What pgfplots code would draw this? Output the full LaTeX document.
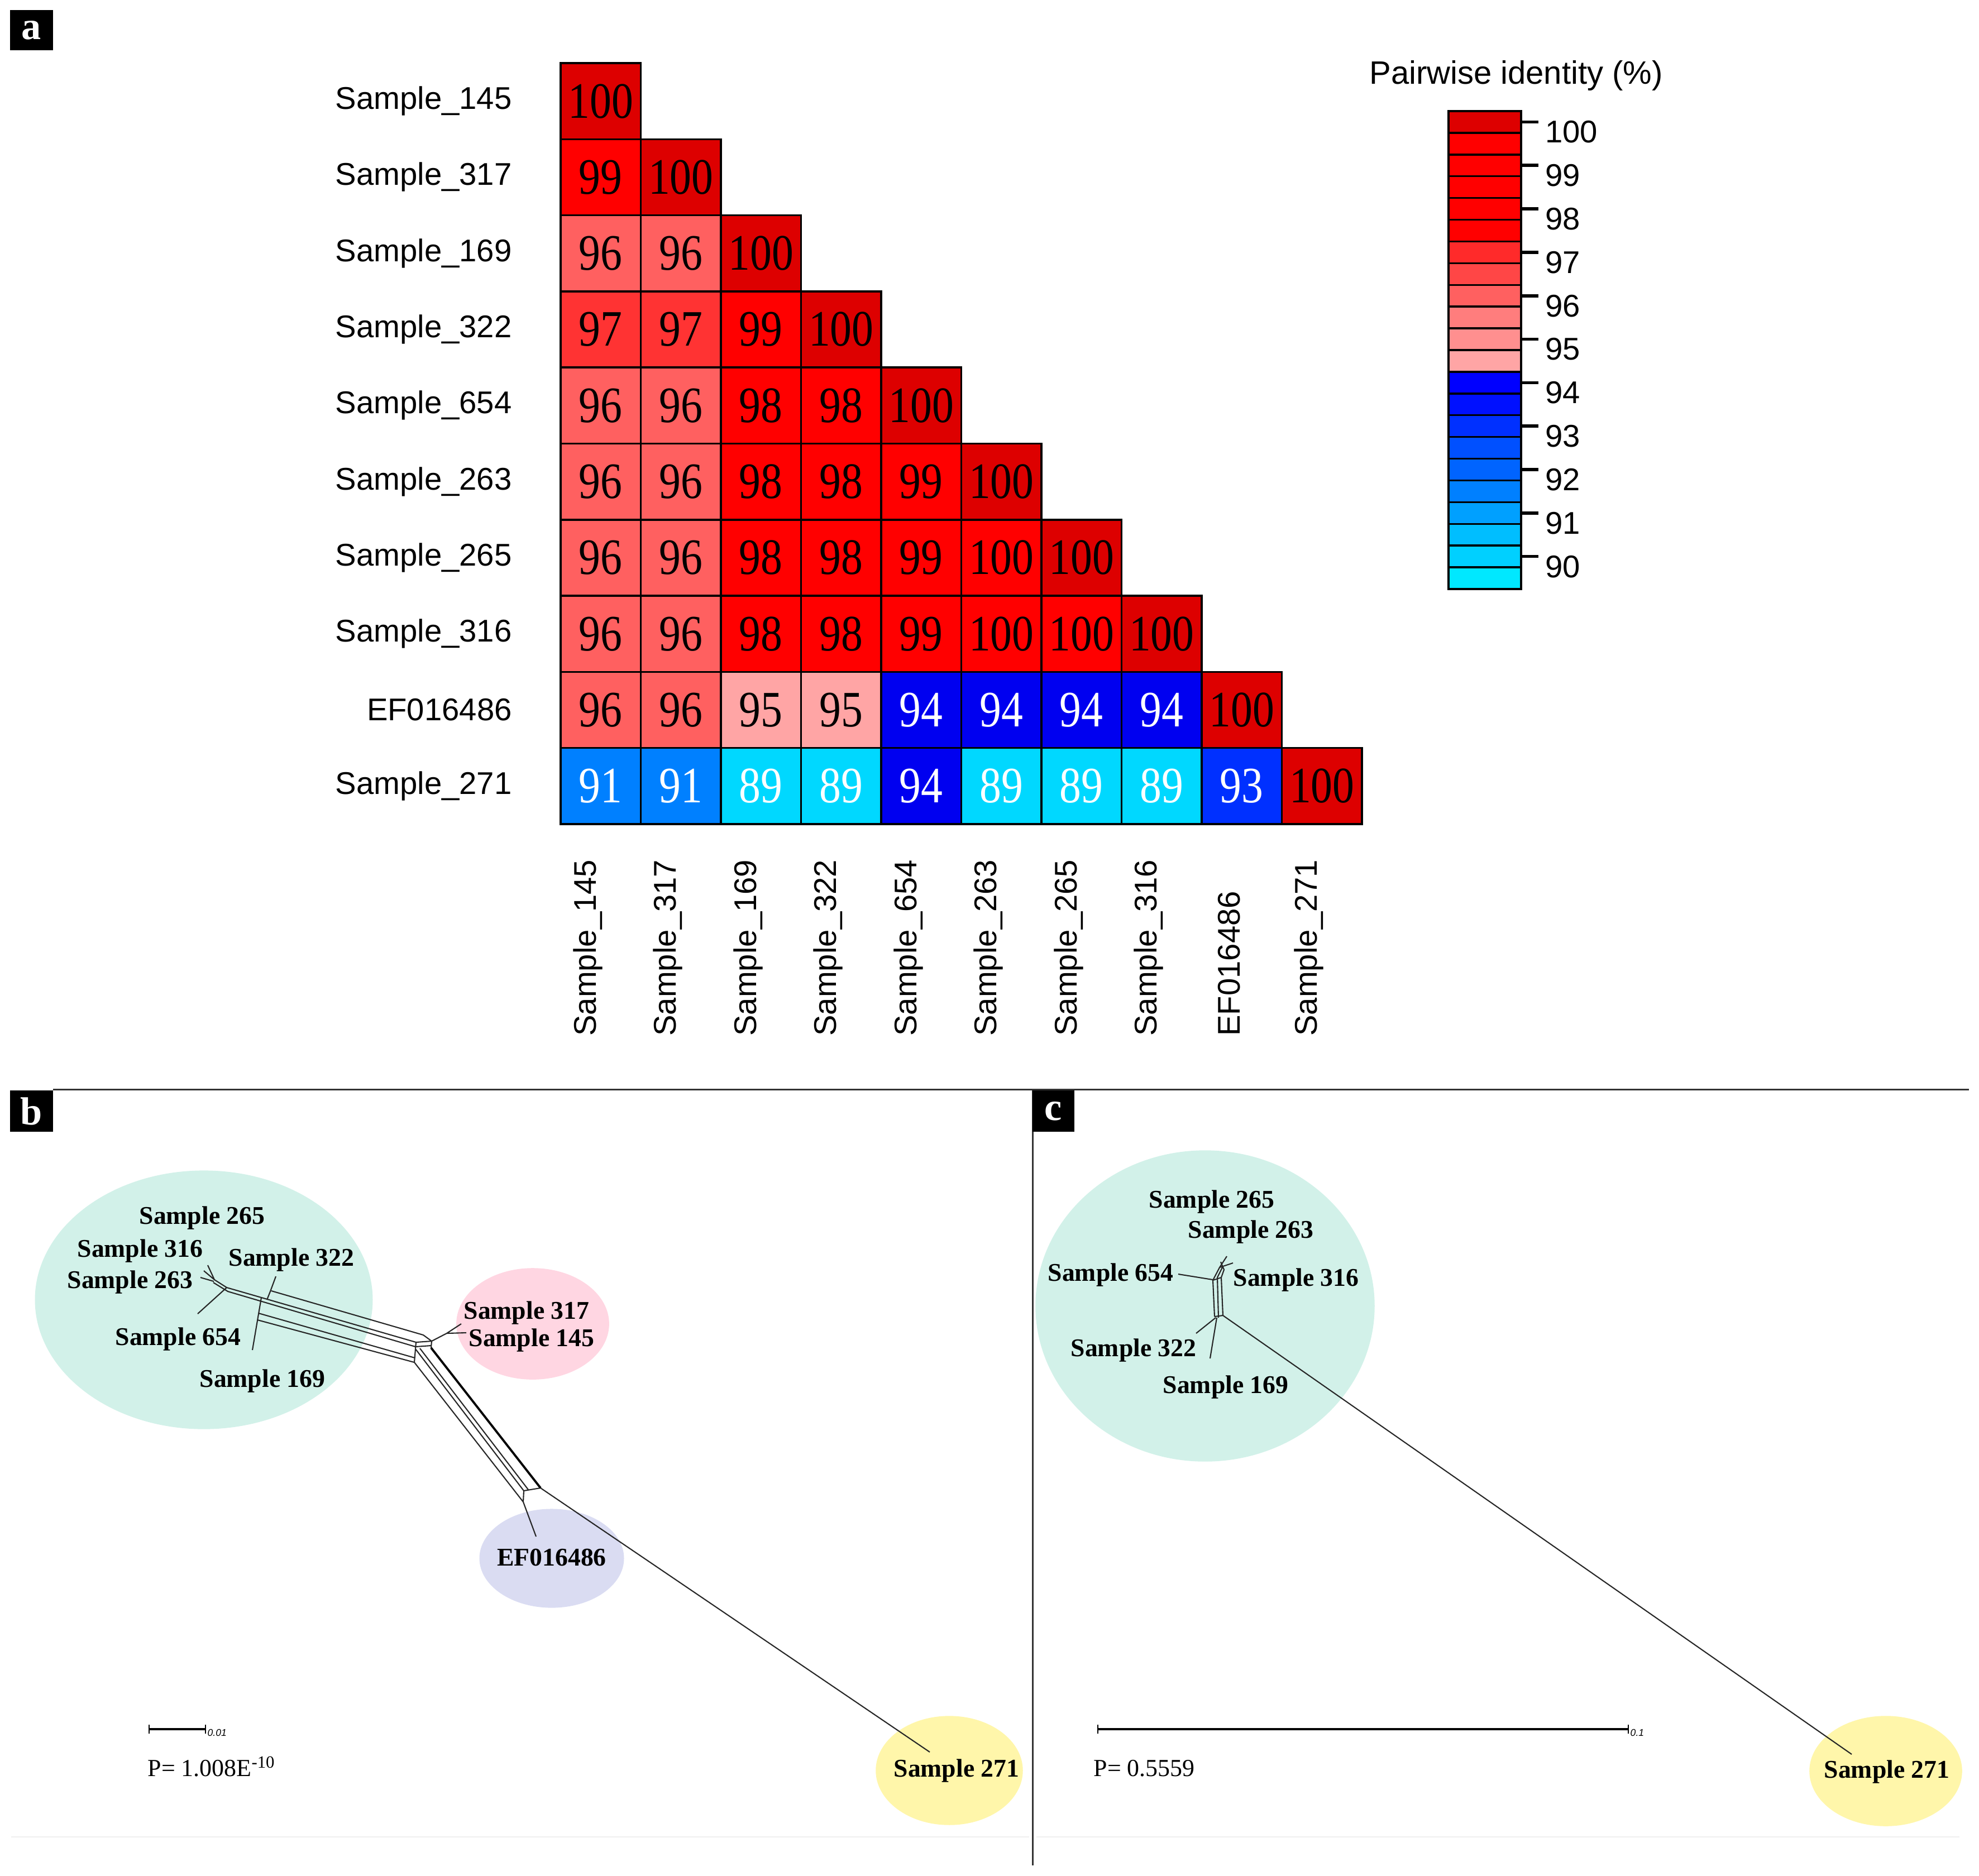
\documentclass[border=0pt]{standalone}
\usepackage{fontspec}
\setmainfont{Liberation Serif}
\newfontfamily\arial{Liberation Sans}
\usepackage{pgfplots}
\pgfplotsset{compat=1.18}
\usepackage{pgfplotstable}

\definecolor{mint}{RGB}{210,241,233}
\definecolor{rose}{RGB}{255,214,226}
\definecolor{lav}{RGB}{218,220,242}
\definecolor{lemon}{RGB}{255,246,170}
% cell shades
\definecolor{hA}{RGB}{221,0,0}
\definecolor{hB}{RGB}{255,0,0}
\definecolor{hC}{RGB}{255,51,51}
\definecolor{hD}{RGB}{255,96,96}
\definecolor{hE}{RGB}{255,165,165}
\definecolor{hF}{RGB}{0,0,240}
\definecolor{hG}{RGB}{0,48,255}
\definecolor{hH}{RGB}{0,128,255}
\definecolor{hI}{RGB}{0,216,255}
% colour key shades
\definecolor{kA}{RGB}{221,0,0}
\definecolor{kB}{RGB}{255,0,0}
\definecolor{kC}{RGB}{255,42,42}
\definecolor{kD}{RGB}{255,70,70}
\definecolor{kE}{RGB}{255,96,96}
\definecolor{kF}{RGB}{255,125,125}
\definecolor{kG}{RGB}{255,143,143}
\definecolor{kH}{RGB}{255,165,165}
\definecolor{kI}{RGB}{0,0,255}
\definecolor{kJ}{RGB}{0,16,255}
\definecolor{kK}{RGB}{0,48,255}
\definecolor{kL}{RGB}{0,80,255}
\definecolor{kM}{RGB}{0,100,255}
\definecolor{kN}{RGB}{0,128,255}
\definecolor{kO}{RGB}{0,160,255}
\definecolor{kP}{RGB}{0,190,255}
\definecolor{kQ}{RGB}{0,208,255}
\definecolor{kR}{RGB}{0,232,255}

\newcommand\cellfont{\fontsize{26}{28}\selectfont}
\newcommand\netfont{\bfseries\fontsize{13}{15}\selectfont}
\newcommand\labfont{\arial\fontsize{16}{19}\selectfont}

% pairwise identity, lower triangle; c = shade class
\pgfplotstableread{
x y v c
0 0 100 hA
0 1 99 hB
1 1 100 hA
0 2 96 hD
1 2 96 hD
2 2 100 hA
0 3 97 hC
1 3 97 hC
2 3 99 hB
3 3 100 hA
0 4 96 hD
1 4 96 hD
2 4 98 hB
3 4 98 hB
4 4 100 hA
0 5 96 hD
1 5 96 hD
2 5 98 hB
3 5 98 hB
4 5 99 hB
5 5 100 hA
0 6 96 hD
1 6 96 hD
2 6 98 hB
3 6 98 hB
4 6 99 hB
5 6 100 hB
6 6 100 hA
0 7 96 hD
1 7 96 hD
2 7 98 hB
3 7 98 hB
4 7 99 hB
5 7 100 hB
6 7 100 hB
7 7 100 hA
0 8 96 hD
1 8 96 hD
2 8 95 hE
3 8 95 hE
4 8 94 hF
5 8 94 hF
6 8 94 hF
7 8 94 hF
8 8 100 hA
0 9 91 hH
1 9 91 hH
2 9 89 hI
3 9 89 hI
4 9 94 hF
5 9 89 hI
6 9 89 hI
7 9 89 hI
8 9 93 hG
9 9 100 hA
}\heatdata

% colour key, one box per half percent
\pgfplotstableread{
y k
100 kA
99.5 kB
99 kB
98.5 kB
98 kB
97.5 kB
97 kC
96.5 kD
96 kE
95.5 kF
95 kG
94.5 kH
94 kI
93.5 kJ
93 kK
92.5 kL
92 kM
91.5 kN
91 kO
90.5 kP
90 kQ
89.5 kR
}\keydata

\pgfdeclareplotmark{hcell}{\pgfpathrectangle{\pgfpoint{-0.7175cm}{-0.6815cm}}{\pgfpoint{1.435cm}{1.363cm}}\pgfusepathqfillstroke}
\pgfdeclareplotmark{cbox}{\pgfpathrectangle{\pgfpoint{-0.65cm}{-0.1945cm}}{\pgfpoint{1.3cm}{0.389cm}}\pgfusepathqfillstroke}

\pgfplotsset{net/.style={scale only axis, hide axis, clip=false, y dir=reverse,
    ymin=1951, ymax=3360, unbounded coords=jump, height=14.09cm, anchor=center},
  netb/.style={net, width=18.49cm, at={(9.245cm,-26.555cm)}, xmin=0, xmax=1849},
  netc/.style={net, width=16.95cm, at={(26.965cm,-26.555cm)}, xmin=1849, xmax=3544}}

\begin{document}
\begin{tikzpicture}
\path[use as bounding box] (0,0) rectangle (35.44,-33.60);

% ---- a: heat map
\begin{axis}[
    scale only axis, width=14.35cm, height=13.63cm,
    at={(17.215cm,-7.945cm)}, anchor=center,
    xmin=-0.5, xmax=9.5, ymin=-9.5, ymax=0.5,
    clip=false,
    axis line style={draw=none}, major tick style={draw=none},
    xtick={0,...,9}, ytick={-9,...,0},
    xticklabels={Sample\_145,Sample\_317,Sample\_169,Sample\_322,Sample\_654,Sample\_263,Sample\_265,Sample\_316,EF016486,Sample\_271},
    yticklabels={Sample\_271,EF016486,Sample\_316,Sample\_265,Sample\_263,Sample\_654,Sample\_322,Sample\_169,Sample\_317,Sample\_145},
    tick label style={font=\labfont},
    yticklabel style={anchor=east, xshift=-0.75cm},
    xticklabel style={xshift=-0.23cm, yshift=-3.92cm, rotate=90, anchor=west},
]
\addplot[scatter, only marks, mark=hcell, point meta=explicit symbolic,
    scatter/classes={hA={fill=hA}, hB={fill=hB}, hC={fill=hC}, hD={fill=hD},
      hE={fill=hE}, hF={fill=hF}, hG={fill=hG}, hH={fill=hH}, hI={fill=hI}},
    mark options={draw=black, line width=1pt}]
    table[x=x, y expr=-\thisrow{y}, meta=c] {\heatdata};
\addplot[only marks, mark=none,
    visualization depends on={\thisrow{v}\as\cellval},
    nodes near coords={\pgfmathtruncatemacro\cv{\cellval}\ifdim\cellval pt<94.5pt\color{white}\fi\cv},
    nodes near coords style={anchor=center, text=black, font=\cellfont, xscale=0.85, inner sep=0pt}]
    table[x=x, y expr=-\thisrow{y}] {\heatdata};
\end{axis}

% ---- a: colour key
\begin{axis}[
    scale only axis, width=1.3cm, height=8.56cm,
    at={(26.59cm,-6.27cm)}, anchor=center,
    xmin=0, xmax=1, ymin=89.25, ymax=100.25,
    clip=false, axis on top,
    axis line style={line width=1.4pt},
    xtick=\empty, ytick={90,...,100},
    ytick pos=right, yticklabel pos=right, tick align=outside,
    major tick length=0.31cm, major tick style={line width=1.6pt, black},
    /pgf/number format/assume math mode=true,
    yticklabel style={font=\labfont, yshift=-0.18cm},
]
\addplot[scatter, only marks, mark=cbox, point meta=explicit symbolic,
    scatter/classes={
      kA={fill=kA}, kB={fill=kB}, kC={fill=kC}, kD={fill=kD}, kE={fill=kE},
      kF={fill=kF}, kG={fill=kG}, kH={fill=kH}, kI={fill=kI}, kJ={fill=kJ},
      kK={fill=kK}, kL={fill=kL}, kM={fill=kM}, kN={fill=kN}, kO={fill=kO},
      kP={fill=kP}, kQ={fill=kQ}, kR={fill=kR}},
    mark options={draw=black, line width=1pt}]
    table[x expr=0.5, y=y, meta=k] {\keydata};
\end{axis}
\node[font=\arial\fontsize{16.5}{19}\selectfont] at (27.15,-1.36) {Pairwise identity (\%)};

% ---- b: group shading
\begin{axis}[netb]
\addplot[only marks, mark=*, draw=mint, fill=mint, mark size=65.7pt, mark options={xscale=1.307}] coordinates {(365,2328)};
\addplot[only marks, mark=*, draw=rose, fill=rose, mark size=28.2pt, mark options={xscale=1.374}] coordinates {(954,2371)};
\addplot[only marks, mark=*, draw=lav, fill=lav, mark size=25.0pt, mark options={xscale=1.466}] coordinates {(988,2791)};
\addplot[only marks, mark=*, draw=lemon, fill=lemon, mark size=27.6pt, mark options={xscale=1.351}] coordinates {(1700,3171)};
\end{axis}

% ---- b: split network
\begin{axis}[netb]
\addplot[black!85, line width=0.6pt] coordinates {
 (372,2266) (384,2292) (nan,nan)
 (365,2276) (384,2292) (nan,nan)
 (359,2288) (383,2295) (nan,nan)
 (384,2292) (406,2306) (nan,nan)
 (382,2297) (408,2313) (nan,nan)
 (406,2306) (354,2353) (nan,nan)
 (484,2313) (494,2286) (nan,nan)
 (484,2313) (478,2328) (nan,nan)
 (468,2324) (452,2418) (nan,nan)
 (486,2312) (758,2391) (nan,nan)
 (406,2306) (745,2404) (nan,nan)
 (408,2313) (744,2412) (nan,nan)
 (463,2352) (743,2432) (nan,nan)
 (461,2364) (742,2440) (nan,nan)
 (745,2404) (773,2402) (nan,nan)
 (744,2412) (772,2410) (nan,nan)
 (758,2391) (773,2402) (nan,nan)
 (745,2404) (742,2440) (nan,nan)
 (773,2402) (772,2414) (nan,nan)
 (773,2402) (800,2388) (826,2371) (nan,nan)
 (800,2388) (835,2387) (nan,nan)
 (744,2416) (938,2670) (nan,nan)
 (752,2415) (946,2668) (nan,nan)
 (742,2440) (937,2690) (nan,nan)
 (938,2670) (968,2665) (nan,nan)
 (938,2670) (937,2690) (960,2752) (nan,nan)
 (968,2665) (1665,3138)
};
\addplot[black, line width=1.1pt] coordinates {(772,2414) (968,2665)};
% scale bar
\addplot[black, line width=1.2pt] coordinates {(267,3097) (368,3097)};
\addplot[black, line width=0.6pt] coordinates {(267,3089) (267,3105) (nan,nan) (368,3089) (368,3105)};
\node[anchor=west, inner sep=0pt, font=\arial\itshape\fontsize{5}{6}\selectfont] at (axis cs:371,3103) {0.01};
\node[anchor=west, inner sep=0pt, font=\fontsize{12.5}{14}\selectfont] at (axis cs:264,3164) {P= 1.008E\textsuperscript{-10}};
\node[font=\netfont] at (axis cs:362,2181) {Sample 265};
\node[font=\netfont] at (axis cs:251,2240) {Sample 316};
\node[font=\netfont] at (axis cs:522,2256) {Sample 322};
\node[font=\netfont] at (axis cs:233,2296) {Sample 263};
\node[font=\netfont] at (axis cs:319,2398) {Sample 654};
\node[font=\netfont] at (axis cs:470,2473) {Sample 169};
\node[font=\netfont] at (axis cs:943,2351) {Sample 317};
\node[font=\netfont] at (axis cs:952,2400) {Sample 145};
\node[font=\netfont] at (axis cs:988,2789) {EF016486};
\node[font=\netfont] at (axis cs:1713,3171) {Sample 271};
\end{axis}

% ---- c: group shading
\begin{axis}[netc]
\addplot[only marks, mark=*, draw=mint, fill=mint, mark size=79.1pt, mark options={xscale=1.090}] coordinates {(2158,2339)};
\addplot[only marks, mark=*, draw=lemon, fill=lemon, mark size=27.9pt, mark options={xscale=1.388}] coordinates {(3377,3172)};
\end{axis}

% ---- c: split network
\begin{axis}[netc]
\addplot[black!85, line width=0.6pt] coordinates {
 (2172,2293) (2184,2270) (2197,2250) (nan,nan)
 (2180,2288) (2190,2268) (2208,2262) (nan,nan)
 (2184,2270) (2190,2268) (nan,nan)
 (2187,2288) (2192,2274) (2186,2260) (nan,nan)
 (2172,2292) (2110,2282) (nan,nan)
 (2172,2293) (2187,2288) (nan,nan)
 (2172,2293) (2175,2358) (nan,nan)
 (2180,2288) (2182,2360) (nan,nan)
 (2187,2288) (2190,2356) (nan,nan)
 (2175,2358) (2190,2356) (nan,nan)
 (2177,2360) (2142,2388) (nan,nan)
 (2179,2360) (2167,2433) (nan,nan)
 (2190,2356) (3316,3142)
};
% scale bar
\addplot[black, line width=1.2pt] coordinates {(1966,3097) (2916,3097)};
\addplot[black, line width=0.6pt] coordinates {(1966,3089) (1966,3105) (nan,nan) (2916,3089) (2916,3105)};
\node[anchor=west, inner sep=0pt, font=\arial\itshape\fontsize{5}{6}\selectfont] at (axis cs:2919,3103) {0.1};
\node[anchor=west, inner sep=0pt, font=\fontsize{12.5}{14}\selectfont] at (axis cs:1958,3167) {P= 0.5559};
\node[font=\netfont] at (axis cs:2170,2152) {Sample 265};
\node[font=\netfont] at (axis cs:2240,2206) {Sample 263};
\node[font=\netfont] at (axis cs:1989,2283) {Sample 654};
\node[font=\netfont] at (axis cs:2321,2292) {Sample 316};
\node[font=\netfont] at (axis cs:2030,2418) {Sample 322};
\node[font=\netfont] at (axis cs:2195,2484) {Sample 169};
\node[font=\netfont] at (axis cs:3379,3173) {Sample 271};
\end{axis}

% ---- frame lines and panel letters
\draw[black!80, line width=0.85pt] (0.95,-19.51) -- (35.26,-19.51);
\draw[black!80, line width=0.85pt] (18.49,-19.51) -- (18.49,-33.41);
\draw[black!6, line width=0.8pt] (0.2,-32.90) -- (18.43,-32.90);
\draw[black!6, line width=0.8pt] (18.56,-32.90) -- (35.09,-32.90);
\node[fill=black, text=white, font=\bfseries\fontsize{20}{20}\selectfont, minimum width=0.77cm, minimum height=0.72cm, inner sep=0pt] at (0.565,-0.54) {a};
\node[fill=black, text=white, font=\bfseries\fontsize{20}{20}\selectfont, minimum width=0.77cm, minimum height=0.74cm, inner sep=0pt] at (0.565,-19.90) {b};
\node[fill=black, text=white, font=\bfseries\fontsize{20}{20}\selectfont, minimum width=0.75cm, minimum height=0.74cm, inner sep=0pt] at (18.86,-19.90) {c};
\end{tikzpicture}
\end{document}
